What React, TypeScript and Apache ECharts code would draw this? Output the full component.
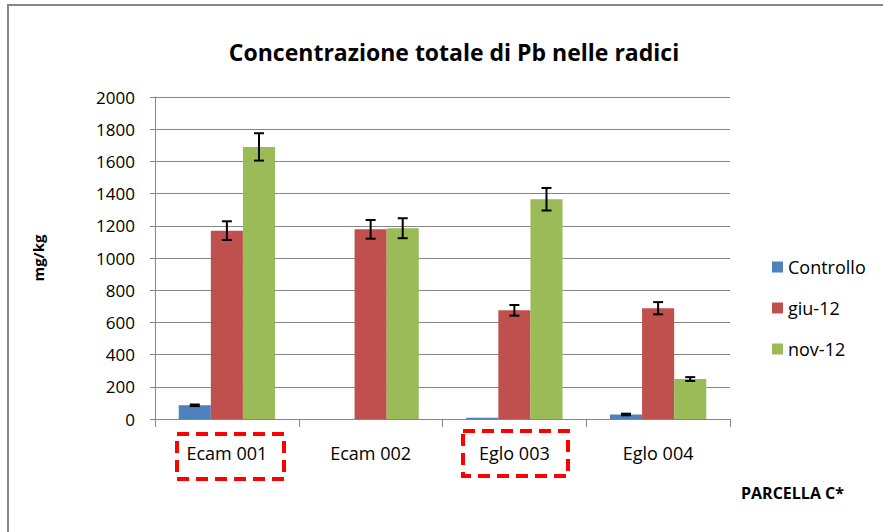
import React, { useEffect, useRef } from "react";
import * as echarts from "echarts";

const categories = ["Ecam 001", "Ecam 002", "Eglo 003", "Eglo 004"];
const seriesNames = ["Controllo", "giu-12", "nov-12"];
const controllo = [85, 0, 8, 28];
const giu12 = [1170, 1178, 675, 688];
const nov12 = [1690, 1185, 1365, 248];
const controlloErr = [5, 0, 0, 5];
const giu12Err = [58, 58, 33, 38];
const nov12Err = [85, 62, 70, 12];
const yTicks = [0, 200, 400, 600, 800, 1000, 1200, 1400, 1600, 1800, 2000];
const colors = ["#4F81BD", "#C0504D", "#9BBB59"];

const FONT = "'Open Sans', sans-serif";

export default function App() {
  const ref = useRef<HTMLDivElement>(null);
  useEffect(() => {
    if (!ref.current) return;
    const chart = echarts.init(ref.current, undefined, { renderer: "svg" });
    const values = [controllo, giu12, nov12];
    const errs = [controlloErr, giu12Err, nov12Err];
    const errData: number[][] = [];
    values.forEach((arr, s) => {
      arr.forEach((v, i) => {
        if (errs[s][i] > 0) errData.push([i, v, errs[s][i], s]);
      });
    });
    const catGap = 0.33;
    chart.setOption({
      animation: false,
      textStyle: { fontFamily: FONT },
      title: {
        text: "Concentrazione totale di Pb nelle radici",
        left: 449,
        textAlign: "center",
        top: 35,
        textStyle: { fontFamily: FONT, fontSize: 23, fontWeight: "bold", color: "#000" },
      },
      grid: { left: 155, right: 153, top: 97, bottom: 113 },
      legend: {
        orient: "vertical",
        left: 767,
        top: 253,
        itemWidth: 11,
        itemHeight: 11,
        itemGap: 23,
        icon: "rect",
        data: seriesNames,
        textStyle: { fontFamily: FONT, fontSize: 18, color: "#000" },
      },
      xAxis: {
        type: "category",
        data: categories,
        axisLine: { lineStyle: { color: "#868686", width: 1 } },
        axisTick: { show: true, length: 8, lineStyle: { color: "#868686" } },
        axisLabel: { fontFamily: FONT, fontSize: 18, color: "#000", margin: 25 },
      },
      yAxis: {
        type: "value",
        min: yTicks[0],
        max: yTicks[yTicks.length - 1],
        interval: 200,
        name: "mg/kg",
        nameLocation: "middle",
        nameRotate: 90,
        nameGap: 110,
        nameTextStyle: { fontFamily: FONT, fontSize: 15, fontWeight: "bold", color: "#000" },
        axisLine: { show: true, lineStyle: { color: "#868686" } },
        axisTick: { show: true, length: 5, lineStyle: { color: "#868686" } },
        splitLine: { lineStyle: { color: "#868686", width: 1 } },
        axisLabel: {
          fontFamily: FONT,
          fontSize: 17,
          color: "#000",
          margin: 20,
          formatter: (v: number) => String(v),
        },
      },
      series: [
        ...values.map((arr, s) => ({
          type: "bar",
          name: seriesNames[s],
          data: arr,
          barGap: "0%",
          barCategoryGap: "33%",
          itemStyle: { color: colors[s] },
        })),
        {
          type: "custom",
          name: "err",
          data: errData,
          z: 10,
          encode: { x: 0, y: 1 },
          renderItem: (params: any, api: any) => {
            const i = api.value(0);
            const v = api.value(1);
            const e = api.value(2);
            const s = api.value(3);
            const band = api.size([1, 0])[0];
            const barW = (band * (1 - catGap)) / 3;
            const center = api.coord([i, v]);
            const x = center[0] + (s - 1) * barW;
            const yTop = api.coord([i, v + e])[1];
            const yBot = api.coord([i, v - e])[1];
            const cap = 5;
            const style = { stroke: "#000", lineWidth: 2 };
            return {
              type: "group",
              children: [
                { type: "line", shape: { x1: x, y1: yTop, x2: x, y2: yBot }, style },
                { type: "line", shape: { x1: x - cap, y1: yTop, x2: x + cap, y2: yTop }, style },
                { type: "line", shape: { x1: x - cap, y1: yBot, x2: x + cap, y2: yBot }, style },
              ],
            };
          },
        },
      ],
      graphic: [
        {
          type: "rect",
          shape: { x: 8, y: 5, width: 900, height: 600 },
          style: { fill: "none", stroke: "#868686", lineWidth: 2 },
          silent: true,
        },
        {
          type: "rect",
          shape: { x: 177, y: 434, width: 107, height: 45 },
          style: { fill: "none", stroke: "#FF0000", lineWidth: 4, lineDash: [12, 7] },
        },
        {
          type: "rect",
          shape: { x: 463, y: 431, width: 105, height: 45 },
          style: { fill: "none", stroke: "#FF0000", lineWidth: 4, lineDash: [12, 7] },
        },
        {
          type: "text",
          x: 741,
          y: 485,
          style: {
            text: "PARCELLA C*",
            font: "bold 16px 'Open Sans', sans-serif",
            fill: "#000",
          },
        },
      ],
    });
    return () => chart.dispose();
  }, []);
  return <div ref={ref} style={{ width: 883, height: 532, position: "absolute", left: 0, top: 0 }} />;
}
